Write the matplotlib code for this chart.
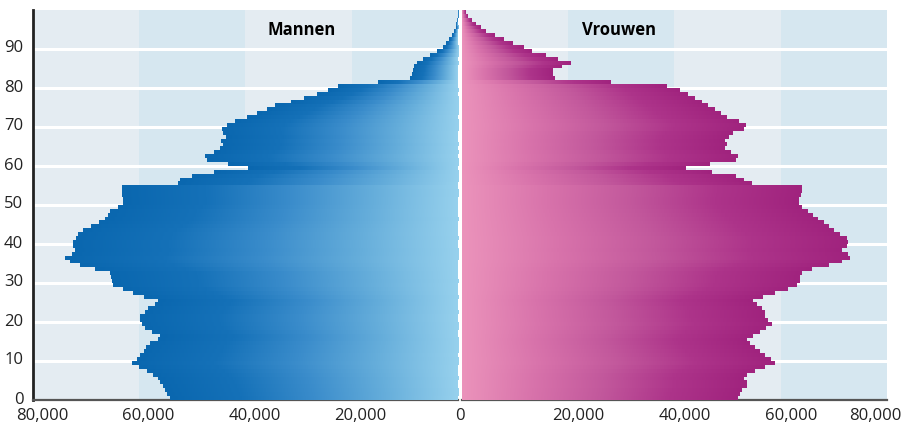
import numpy as np
import matplotlib
matplotlib.use("Agg")
import matplotlib.pyplot as plt
from matplotlib.colors import LinearSegmentedColormap
from matplotlib.transforms import ScaledTranslation

plt.rcParams['font.family'] = ['Open Sans', 'DejaVu Sans']

# Population by single year of age (0..99)
ages = list(range(100))
men = [54200, 54800, 55200, 55500, 56000, 56500, 57400, 58500, 60000, 61400,
       60500, 59800, 59200, 58800, 58000, 56500, 56000, 57600, 59000, 59500,
       59800, 59800, 59000, 58300, 57000, 56400, 59200, 61100, 63000, 64900,
       65200, 65300, 65500, 68300, 71100, 73000, 74000, 72700, 72100, 72400,
       72400, 72000, 71500, 70500, 69000, 67500, 66500, 65800, 65500, 64000,
       63000, 63000, 63300, 63300, 63200, 52700, 52400, 50100, 46000, 39500,
       43300, 47300, 47600, 46000, 44800, 44300, 44600, 43600, 44200, 44500,
       43500, 42000, 39700, 37900, 36000, 34500, 31500, 29000, 26500, 24500,
       22500, 15000, 9000, 8600, 8400, 8200, 7800, 6500, 5300, 4000,
       2900, 2200, 1600, 1100, 700, 450, 300, 150, 80, 40]
women = [51900, 52300, 52600, 53500, 53500, 52900, 53500, 55000, 57000, 58900,
         58000, 57000, 56000, 55000, 54200, 53600, 54600, 56000, 57200, 58300,
         57500, 57000, 57000, 56400, 55500, 54600, 56500, 58800, 61200, 63000,
         63500, 63600, 63900, 65800, 69000, 71500, 73000, 72500, 71500, 72400,
         72600, 72400, 71000, 70000, 69000, 68000, 67000, 66000, 65000, 64000,
         63300, 63300, 63800, 64000, 64000, 54500, 52900, 51500, 47000, 42000,
         46500, 51500, 51800, 50500, 49500, 49800, 49500, 50200, 51000, 53000,
         53300, 52000, 49800, 48600, 47500, 46200, 45000, 43800, 42400, 41000,
         38500, 28000, 17500, 17000, 17000, 18800, 20400, 18000, 15700, 13100,
         11500, 9500, 7800, 6200, 4500, 3500, 2600, 1800, 1100, 600]

left_ticks = [80000, 60000, 40000, 20000]
right_ticks = [0, 20000, 40000, 60000, 80000]
age_ticks = [0, 10, 20, 30, 40, 50, 60, 70, 80, 90]
panel_titles = ["Mannen", "Vrouwen"]

W, H = 908, 429
fig = plt.figure(figsize=(W / 100, H / 100), dpi=100)
fig.patch.set_facecolor('white')

bottom_px, top_px = 400, 10
ax_h = (bottom_px - top_px) / H
ax_b = (H - bottom_px) / H
axL = fig.add_axes([33 / W, ax_b, 425 / W, ax_h])
axR = fig.add_axes([462 / W, ax_b, 425 / W, ax_h])

light_band = '#e4ecf2'
dark_band = '#d6e7f0'

men_cmap = LinearSegmentedColormap.from_list(
    'men', ['#97d1ed', '#66aedb', '#3a8ccb', '#1571b8', '#0a67af'])
women_cmap = LinearSegmentedColormap.from_list(
    'women', ['#eb93bb', '#d873ab', '#c2589c', '#ad348a', '#a0237e'])

grad = np.linspace(0, 1, 256).reshape(1, -1)

for ax, data, cmap, bands in [
        (axL, men, men_cmap, [dark_band, light_band, dark_band, light_band]),
        (axR, women, women_cmap, [light_band, dark_band, light_band, dark_band])]:
    ax.set_facecolor(light_band)
    for i, col in enumerate(bands):
        ax.axvspan(i * 20000, (i + 1) * 20000, color=col, lw=0, zorder=0)
    for a in age_ticks[1:]:
        ax.axhline(a, color='white', lw=2.2, zorder=1)
    for a, v in zip(ages, data):
        ax.imshow(grad, cmap=cmap, extent=(0, v, a, a + 1), aspect='auto',
                  interpolation='bilinear', zorder=3)
    ax.set_ylim(0, 100)
    for s in ['top', 'right']:
        ax.spines[s].set_visible(False)
    ax.spines['bottom'].set_color('#555555')
    ax.spines['bottom'].set_linewidth(1.6)
    ax.tick_params(axis='x', length=0, pad=6, labelsize=12, labelcolor='#222222')

axL.set_xlim(80000, 0)
axR.set_xlim(0, 80000)

# x ticks
axL.set_xticks(left_ticks)
axL.set_xticklabels([f"{t:,}" for t in left_ticks])
axR.set_xticks(right_ticks)
axR.set_xticklabels([f"{t:,}" for t in right_ticks])
for lab in axL.get_xticklabels():
    lab.set_transform(lab.get_transform() + ScaledTranslation(0.09, 0, fig.dpi_scale_trans))
for lab, dx in zip(axR.get_xticklabels(), [-0.02, 0.10, 0.10, 0.10, -0.12]):
    lab.set_transform(lab.get_transform() + ScaledTranslation(dx, 0, fig.dpi_scale_trans))

# y ticks on the left panel only
axL.set_yticks(age_ticks)
axL.set_yticklabels([str(a) for a in age_ticks])
axL.tick_params(axis='y', length=0, pad=7, labelsize=12, labelcolor='#222222')
for lab in axL.get_yticklabels():
    lab.set_transform(lab.get_transform() + ScaledTranslation(0, 0.025, fig.dpi_scale_trans))
axL.spines['left'].set_color('#222222')
axL.spines['left'].set_linewidth(2.0)

axR.set_yticks([])
axR.spines['left'].set_visible(False)

axL.text(29500, 94.8, panel_titles[0], ha='center', va='center',
         fontsize=12, fontweight='bold', color='black', zorder=5)
axR.text(29500, 94.8, panel_titles[1], ha='center', va='center',
         fontsize=12, fontweight='bold', color='black', zorder=5)

fig.savefig('out.png', dpi=100)
